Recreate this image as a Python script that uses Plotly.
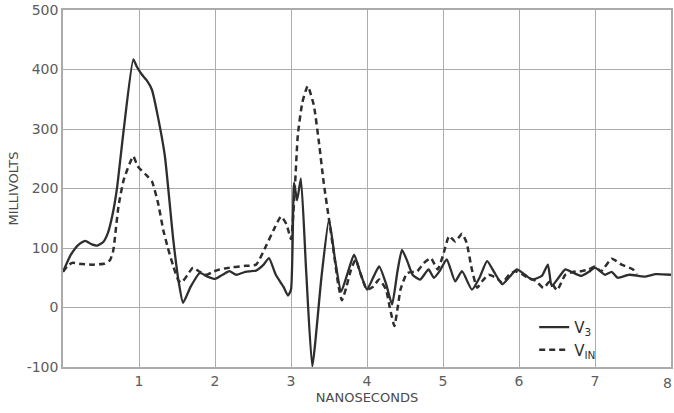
import plotly.graph_objects as go

# Time axis (ns) and measured voltages (mV)
t_v3 = [0, 0.1, 0.2, 0.29, 0.38, 0.45, 0.53, 0.59, 0.65, 0.71, 0.8, 0.925, 0.97,
        1.035, 1.1, 1.17, 1.25, 1.34, 1.45, 1.52, 1.58, 1.68, 1.8, 1.9, 2.0, 2.1,
        2.19, 2.28, 2.4, 2.54, 2.64, 2.71, 2.8, 2.9, 2.96, 3.0, 3.04, 3.08, 3.13,
        3.2, 3.28, 3.4, 3.5, 3.58, 3.66, 3.75, 3.83, 3.92, 4.0, 4.08, 4.16, 4.25,
        4.33, 4.4, 4.46, 4.53, 4.6, 4.7, 4.81, 4.88, 4.96, 5.05, 5.16, 5.25, 5.38,
        5.48, 5.58, 5.68, 5.78, 5.88, 5.97, 6.08, 6.17, 6.3, 6.38, 6.43, 6.52,
        6.61, 6.72, 6.82, 6.92, 7.0, 7.13, 7.22, 7.3, 7.45, 7.65, 7.8, 8.0]
v3 = [60, 88, 105, 112, 106, 104, 110, 125, 155, 200, 300, 417, 405,
      392, 382, 366, 320, 255, 115, 45, 8, 35, 58, 52, 48, 55,
      61, 55, 60, 62, 72, 83, 55, 35, 20, 30, 210, 180, 217,
      60, -99, 50, 148, 80, 27, 60, 89, 55, 30, 50, 69, 40,
      5, 60, 97, 78, 55, 47, 64, 50, 62, 81, 44, 61, 30,
      50, 78, 58, 39, 52, 64, 55, 47, 53, 72, 36, 50,
      64, 58, 53, 60, 67, 55, 60, 50, 55, 52, 56, 55]

t_vin = [0, 0.06, 0.12, 0.25, 0.4, 0.55, 0.62, 0.66, 0.73, 0.8, 0.925, 0.98,
         1.035, 1.1, 1.17, 1.25, 1.32, 1.38, 1.45, 1.52, 1.56, 1.64, 1.71, 1.8,
         1.89, 1.97, 2.06, 2.15, 2.24, 2.4, 2.54, 2.67, 2.77, 2.87, 2.94, 3.0,
         3.05, 3.09, 3.15, 3.22, 3.3, 3.37, 3.43, 3.5, 3.57, 3.62, 3.67, 3.73,
         3.79, 3.85, 3.92, 4.0, 4.08, 4.16, 4.25, 4.3, 4.36, 4.41, 4.44, 4.53,
         4.66, 4.75, 4.84, 4.93, 5.01, 5.08, 5.16, 5.25, 5.31, 5.38, 5.45, 5.52,
         5.6, 5.7, 5.78, 5.87, 5.95, 6.04, 6.12, 6.22, 6.32, 6.41, 6.5, 6.61,
         6.72, 6.82, 6.92, 7.0, 7.08, 7.22, 7.35, 7.5, 7.55]
vin = [60, 70, 75, 73, 72, 74, 80, 95, 170, 215, 254, 238,
       230, 222, 212, 176, 130, 100, 70, 45, 42, 55, 67, 60,
       55, 60, 64, 66, 68, 70, 72, 103, 130, 153, 140, 115,
       200, 290, 345, 372, 340, 275, 210, 148, 86, 40, 12, 35,
       64, 80, 55, 30, 35, 47, 30, 0, -31, 5, 30, 58,
       61, 75, 83, 64, 92, 120, 111, 124, 109, 64, 33, 45,
       55, 50, 42, 55, 61, 56, 50, 45, 33, 44, 29, 55,
       60, 61, 64, 69, 61, 82, 72, 64, 56]

x_ticks = [1, 2, 3, 4, 5, 6, 7, 8]
y_ticks = [-100, 0, 100, 200, 300, 400, 500]

ink = "#2e2e2e"
grid = "#ababab"
label_font = dict(family="DejaVu Sans", size=14, color="#5c5c5c")

fig = go.Figure()
fig.add_trace(go.Scatter(
    x=t_v3, y=v3, mode="lines", name="V<sub>3</sub>",
    line=dict(color=ink, width=2.3, shape="spline", smoothing=0.5),
))
fig.add_trace(go.Scatter(
    x=t_vin, y=vin, mode="lines", name="V<sub>IN</sub>",
    line=dict(color=ink, width=2.5, dash="6px,4px", shape="spline", smoothing=0.5),
))

# the last tick label sits on the page edge, so it is placed as an annotation
fig.add_annotation(
    x=x_ticks[-1], y=0, xref="x", yref="paper", yshift=-6, xshift=3,
    text=str(x_ticks[-1]), showarrow=False, xanchor="right", yanchor="top",
    font=label_font,
)

fig.update_layout(
    width=674, height=413,
    margin=dict(l=63, r=1, t=10, b=46),
    paper_bgcolor="white", plot_bgcolor="white",
    showlegend=True,
    legend=dict(
        x=0.775, y=0.157, xanchor="left", yanchor="top",
        bgcolor="rgba(0,0,0,0)", borderwidth=0,
        font=dict(family="DejaVu Sans", size=15, color=ink),
        itemwidth=30, tracegroupgap=0,
    ),
    xaxis=dict(
        range=[0, 8], tickvals=x_ticks[:-1], ticktext=[str(v) for v in x_ticks[:-1]],
        showgrid=True, gridcolor=grid, gridwidth=1.2,
        showline=True, linecolor=grid, linewidth=1.5, mirror=True,
        zeroline=False, ticks="", tickfont=label_font,
        title=dict(text="NANOSECONDS", standoff=5,
                   font=dict(family="DejaVu Sans", size=13, color="#4a4a4a")),
    ),
    yaxis=dict(
        range=[-100, 500], tickvals=y_ticks, ticktext=[str(v) for v in y_ticks],
        showgrid=True, gridcolor=grid, gridwidth=1.2,
        showline=True, linecolor=grid, linewidth=1.5, mirror=True,
        zeroline=False, ticks="", tickfont=label_font,
        title=dict(text="MILLIVOLTS", standoff=5,
                   font=dict(family="DejaVu Sans", size=13, color="#4a4a4a")),
    ),
)

fig.write_html("out.html")
